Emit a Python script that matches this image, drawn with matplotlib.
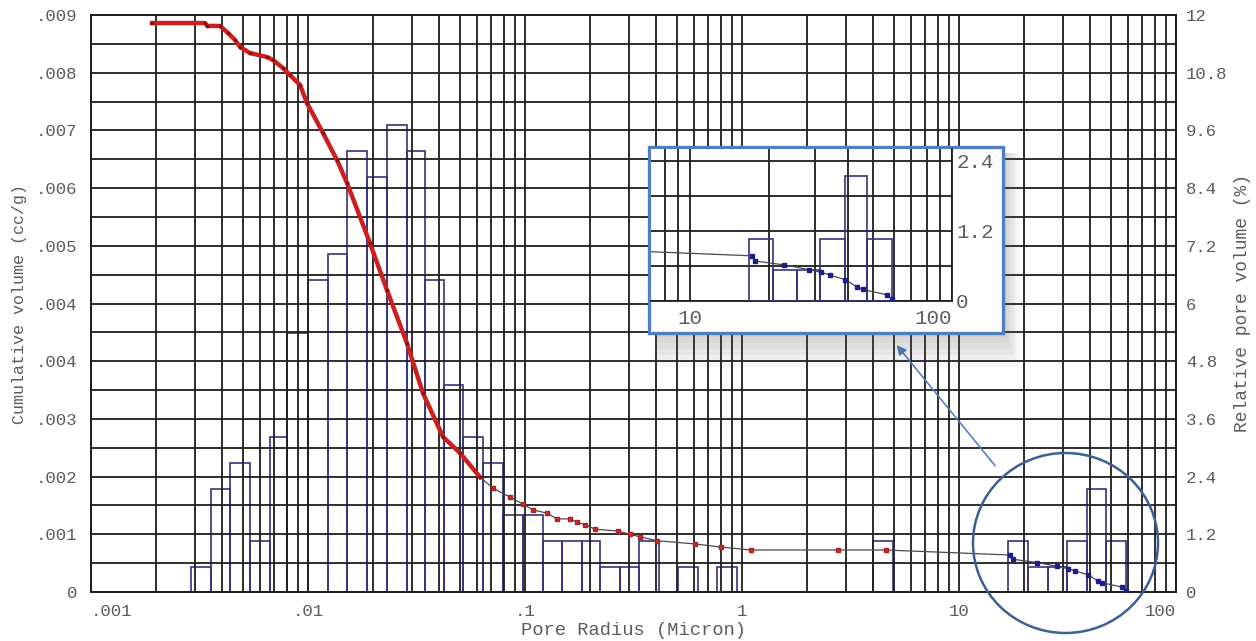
import numpy as np
import matplotlib
matplotlib.use('Agg')
import matplotlib.pyplot as plt
from matplotlib import patches
from matplotlib.ticker import FixedLocator, NullFormatter, LogLocator, MultipleLocator

plt.rcParams['font.family'] = ['Liberation Mono', 'DejaVu Sans Mono']

# cumulative intrusion curve, pore radius (micron) vs cc/g
cum_radius = [0.00191, 0.00335, 0.00343, 0.00393, 0.00428, 0.00461, 0.00486, 0.00540,
              0.00647, 0.00690, 0.00767, 0.00826, 0.00919, 0.00989, 0.01173, 0.01360,
              0.01513, 0.01931, 0.02311, 0.02857, 0.03388, 0.04188, 0.05012, 0.0621,
              0.0713, 0.0853, 0.0979, 0.1089, 0.1262, 0.1404, 0.1612, 0.1737, 0.1890,
              0.2102, 0.2683, 0.3047, 0.339, 0.406, 0.607, 0.800, 1.10, 2.77, 4.61,
              17.2, 17.7, 22.9, 28.4, 31.7, 34.2, 39.2, 43.5, 45.6, 56.5, 59.0]
cum_volume = [0.008875, 0.008875, 0.008829, 0.008829, 0.008719, 0.008610, 0.008501, 0.008407,
              0.008345, 0.008298, 0.008173, 0.008064, 0.007908, 0.007627, 0.007159, 0.006738,
              0.00638, 0.00544, 0.00471, 0.00388, 0.00310, 0.00242, 0.00217, 0.00179,
              0.00162, 0.00148, 0.00137, 0.00128, 0.00123, 0.00114, 0.00114, 0.00109, 0.00105,
              0.00098, 0.00095, 0.00090, 0.00086, 0.00080, 0.00075, 0.00070, 0.000655, 0.000655, 0.000655,
              0.000577, 0.000510, 0.000460, 0.000400, 0.000365, 0.000330, 0.000270, 0.000175,
              0.000145, 0.000075, 0.00002]

# relative pore volume histogram (%), bin edges in micron
bin_lo = [0.00289, 0.00357, 0.00439, 0.00540, 0.00668, 0.00804, 0.0100, 0.01236, 0.01512,
          0.01869, 0.02312, 0.02859, 0.03461, 0.04234, 0.05179, 0.06404, 0.07917, 0.0979,
          0.1210, 0.1481, 0.1831, 0.2216, 0.2741, 0.3351, 0.5071, 0.7671, 4.016,
          16.82, 20.80, 25.71, 31.46, 38.90, 47.58]
bin_hi = [0.00357, 0.00439, 0.00540, 0.00668, 0.00804, 0.0100, 0.01236, 0.01512, 0.01869,
          0.02312, 0.02859, 0.03461, 0.04234, 0.05179, 0.06404, 0.07917, 0.0979, 0.1210,
          0.1481, 0.1831, 0.2216, 0.2741, 0.3351, 0.4145, 0.6269, 0.9484, 4.966,
          20.80, 25.71, 31.46, 38.90, 47.58, 58.84]
rel_vol = [0.52, 2.14, 2.68, 1.06, 3.22, 5.38, 6.48, 7.02, 9.18,
           8.64, 9.72, 9.18, 6.48, 4.30, 3.22, 2.68, 1.60, 1.60,
           1.06, 1.06, 1.06, 0.52, 0.52, 1.06, 0.52, 0.52, 1.06,
           1.06, 0.52, 0.52, 1.06, 2.14, 1.06]

x_ticks = [0.001, 0.01, 0.1, 1, 10, 100]
x_labels = ['.001', '.01', '.1', '1', '10', '100']
left_labels = ['0', '.001', '.002', '.003', '.004', '.004', '.005', '.006', '.007', '.008', '.009']
right_labels = ['0', '1.2', '2.4', '3.6', '4.8', '6', '7.2', '8.4', '9.6', '10.8', '12']

CC_MAX = 0.009
PCT_MAX = 12.0
txt = '#5c5c5c'
grid_c = '#1e1e1e'
bar_c = '#34347f'
red = '#cc1f1f'

W, H = 1256, 641
fig = plt.figure(figsize=(W / 100, H / 100), dpi=100)
fig.patch.set_facecolor('white')

def px(x0, y0, x1, y1):
    return [x0 / W, 1 - y1 / H, (x1 - x0) / W, (y1 - y0) / H]

ax = fig.add_axes(px(91, 15, 1176, 592))
ax2 = ax.twinx()
ax.set_zorder(ax2.get_zorder() + 1)
ax.patch.set_visible(False)

r = np.array(cum_radius)
v = np.array(cum_volume)


def draw_layers(a_bar, a_cur, scale):
    lo = np.array(bin_lo)
    hi = np.array(bin_hi)
    a_bar.bar(lo, rel_vol, width=hi - lo, align='edge', fill=False,
              edgecolor=bar_c, linewidth=1.2, zorder=3)
    a_cur.plot(r, v * scale, color='#4a4a4a', lw=0.9, zorder=4)
    m = r <= 0.07
    a_cur.plot(r[m], v[m] * scale, color=red, lw=3.2, zorder=5,
               marker='s', ms=2.0, mfc='#8a1010', mec='#8a1010')
    m = (r > 0.07) & (r < 10)
    a_cur.plot(r[m], v[m] * scale, ls='none', marker='s', ms=2.6,
               mfc='#c03030', mec='#b02020', zorder=5)
    m = r > 10
    a_cur.plot(r[m], v[m] * scale, ls='none', marker='s', ms=2.8,
               mfc='#1e1e8a', mec='#1e1e8a', zorder=5)


draw_layers(ax2, ax, 1.0)

for a in (ax, ax2):
    a.set_xscale('log')
    a.set_xlim(0.001, 100)
    for s in a.spines.values():
        s.set_color(grid_c)
        s.set_linewidth(1.3)

ax.set_ylim(0, CC_MAX)
ax2.set_ylim(0, PCT_MAX)
ax.yaxis.set_major_locator(FixedLocator(np.linspace(0, CC_MAX, 11)))
ax.set_yticklabels(left_labels)
ax.yaxis.set_minor_locator(MultipleLocator(CC_MAX / 20))
ax2.yaxis.set_major_locator(FixedLocator(np.linspace(0, PCT_MAX, 11)))
ax2.set_yticklabels(right_labels)

ax.xaxis.set_major_locator(FixedLocator(x_ticks))
ax.set_xticklabels(x_labels)
ax.xaxis.set_minor_locator(LogLocator(base=10, subs=np.arange(2, 10)))
ax.xaxis.set_minor_formatter(NullFormatter())
xl = ax.get_xticklabels()
xl[0].set_ha('left')
xl[-1].set_ha('right')

ax.grid(True, which='both', color=grid_c, lw=1.3)
ax.tick_params(which='both', length=0, labelcolor=txt, labelsize=12.5)
ax.tick_params(axis='x', pad=9)
ax.tick_params(axis='y', pad=10)
ax2.tick_params(which='both', length=0, labelcolor=txt, labelsize=12.5, pad=7)

ax.set_xlabel('Pore Radius (Micron)', color=txt, fontsize=13.5, labelpad=2)
ax.set_ylabel('Cumulative volume (cc/g)', color=txt, fontsize=12, labelpad=6)
ax2.set_ylabel('Relative pore volume (%)', color=txt, fontsize=13, labelpad=5)

# circle around the coarse pores
circ = patches.Ellipse((1065.5 / W, 1 - 543 / H), 185 / W, 180 / H,
                       transform=fig.transFigure, fill=False,
                       edgecolor='#3d5f96', lw=1.8, zorder=10)
fig.add_artist(circ)

# shadow and frame of the magnified view
for i in range(6):
    d = 4 + 6 * i
    sh = patches.Rectangle((655 / W, 1 - (333 + d) / H), (350 + d * 0.4) / W, (180 + d) / H,
                           transform=fig.transFigure, facecolor='#606060',
                           edgecolor='none', alpha=0.05, zorder=11)
    fig.add_artist(sh)
frame = patches.Rectangle((649 / W, 1 - 333 / H), 354 / W, 186 / H,
                          transform=fig.transFigure, facecolor='white',
                          edgecolor='#4f7fbf', lw=2.4, zorder=12)
fig.add_artist(frame)

ins = fig.add_axes(px(651, 149, 952, 300.7))
ins.set_zorder(13)
draw_layers(ins, ins, PCT_MAX / CC_MAX)
ins.set_xscale('log')
ins.set_xlim(7.1, 100)
ins.set_ylim(0, 2.6)
ins.xaxis.set_major_locator(FixedLocator([10, 100]))
ins.set_xticklabels(['10', '100'])
ins.get_xticklabels()[-1].set_ha('right')
ins.xaxis.set_minor_locator(LogLocator(base=10, subs=np.arange(2, 10)))
ins.xaxis.set_minor_formatter(NullFormatter())
ins.yaxis.set_major_locator(FixedLocator([0, 1.2, 2.4]))
ins.set_yticklabels(['0', '1.2', '2.4'])
ins.yaxis.set_minor_locator(MultipleLocator(0.6))
ins.yaxis.tick_right()
ins.grid(True, which='both', color=grid_c, lw=1.3)
ins.tick_params(which='both', length=0, labelcolor=txt, labelsize=15)
ins.tick_params(axis='x', pad=6)
ins.tick_params(axis='y', pad=3)
for k, s in ins.spines.items():
    s.set_color(grid_c)
    s.set_linewidth(1.3)
    if k in ('left', 'top'):
        s.set_visible(False)

ax.annotate('', xy=(895, H - 343), xycoords='figure pixels',
            xytext=(997, H - 468), textcoords='figure pixels',
            arrowprops=dict(arrowstyle='-|>', color='#4a78c0', lw=1.1,
                            mutation_scale=14), zorder=14)

fig.savefig('out.png', dpi=100)
